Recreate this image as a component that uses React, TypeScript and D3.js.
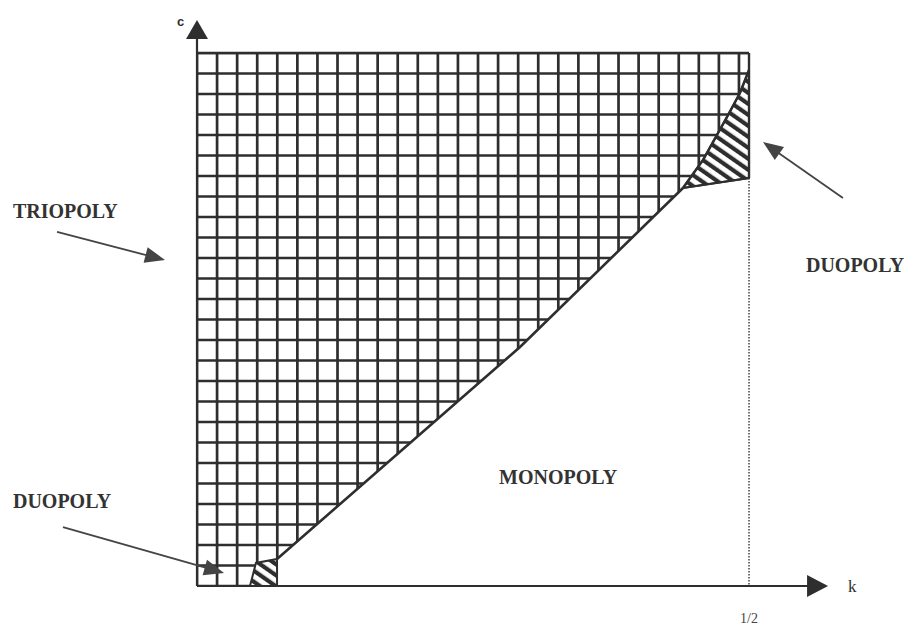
import React from "react";
import * as d3 from "d3";

// Domain of the (k, c) plane
const kDomain = [0, 0.5];
const cDomain = [0, 0.5];
const kGridStep = 1 / 55;
const cGridStep = 1 / 52;

// Triopoly / monopoly boundary
const boundaryK = [0.0725, 0.2926, 0.4402];
const boundaryC = [0.0253, 0.2242, 0.3734];

// Upper-right duopoly region: upper curve and lower edge
const duoUpperK = [0.4402, 0.4583, 0.4801, 0.4918, 0.5];
const duoUpperC = [0.3734, 0.3996, 0.44, 0.4625, 0.484];
const duoLowerK = [0.4402, 0.5];
const duoLowerC = [0.3734, 0.3827];

// Lower-left duopoly region
const duoLeftK = [0.048, 0.0534, 0.0725, 0.0725];
const duoLeftC = [0, 0.0216, 0.0253, 0];

// Labels (data coordinates)
const labelText = ["TRIOPOLY", "DUOPOLY", "DUOPOLY", "MONOPOLY"];
const labelK = [-0.1667, -0.1667, 0.5516, 0.2736];
const labelC = [0.3452, 0.0732, 0.2946, 0.0957];

// Annotation arrows
const arrowFromK = [-0.1268, -0.1214, 0.5851];
const arrowFromC = [0.3321, 0.0553, 0.364];
const arrowToK = [-0.029, 0.0245, 0.5127];
const arrowToC = [0.3058, 0.0122, 0.4165];

const axisEndK = 0.5716;
const axisEndC = 0.531;
const tickK = [0.5];
const tickLabels = ["1/2"];

const W = 904;
const H = 628;
const x = d3.scaleLinear().domain(kDomain).range([197, 749]);
const y = d3.scaleLinear().domain(cDomain).range([586, 53]);

const INK = "#2e2e2e";

function head(x1: number, y1: number, x2: number, y2: number, len: number, half: number) {
  const dx = x2 - x1, dy = y2 - y1;
  const L = Math.hypot(dx, dy);
  const ux = dx / L, uy = dy / L;
  const bx = x2 - ux * len, by = y2 - uy * len;
  return `${x2},${y2} ${bx - uy * half},${by + ux * half} ${bx + uy * half},${by - ux * half}`;
}

export default function App() {
  const line = d3.line<[number, number]>().x((d) => x(d[0])).y((d) => y(d[1]));

  const boundaryPts: [number, number][] = boundaryK.map((k, i) => [k, boundaryC[i]]);
  const upperPts: [number, number][] = duoUpperK.map((k, i) => [k, duoUpperC[i]]);
  const lowerPts: [number, number][] = duoLowerK.map((k, i) => [k, duoLowerC[i]]);
  const leftPts: [number, number][] = duoLeftK.map((k, i) => [k, duoLeftC[i]]);

  const trioPoly: [number, number][] = [
    [kDomain[0], cDomain[0]],
    [duoLeftK[0], duoLeftC[0]],
    [duoLeftK[1], duoLeftC[1]],
    ...boundaryPts,
    ...upperPts.slice(1),
    [kDomain[1], cDomain[1]],
    [kDomain[0], cDomain[1]],
  ];
  const rightDuoPoly: [number, number][] = [...upperPts, ...lowerPts.slice().reverse()];

  const polyStr = (pts: [number, number][]) => pts.map((p) => `${x(p[0])},${y(p[1])}`).join(" ");

  const vLines = d3.range(0, 28).map((i) => i * kGridStep).filter((k) => k <= kDomain[1]);
  const hLines = d3.range(0, 27).map((j) => j * cGridStep).filter((c) => c <= cDomain[1] + 1e-9);

  return (
    <svg width={W} height={H} style={{ position: "absolute", left: 0, top: 0, background: "#fff" }}>
      <defs>
        <clipPath id="trio">
          <polygon points={polyStr(trioPoly)} />
        </clipPath>
        <pattern id="hatch" width={9} height={9} patternUnits="userSpaceOnUse" patternTransform="rotate(-55)">
          <rect x={0} y={0} width={4.2} height={9} fill={INK} />
        </pattern>
      </defs>
      <rect width={W} height={H} fill="#fff" />

      {/* Triopoly grid */}
      <g clipPath="url(#trio)" stroke={INK} strokeWidth={2.7}>
        {vLines.map((k, i) => (
          <line key={"v" + i} x1={x(k)} x2={x(k)} y1={y(cDomain[0])} y2={y(cDomain[1])} />
        ))}
        {hLines.map((c, i) => (
          <line key={"h" + i} x1={x(kDomain[0])} x2={x(kDomain[1])} y1={y(c)} y2={y(c)} />
        ))}
      </g>

      {/* Duopoly hatched regions */}
      <polygon points={polyStr(rightDuoPoly)} fill="url(#hatch)" stroke={INK} strokeWidth={2} />
      <polygon points={polyStr(leftPts)} fill="url(#hatch)" stroke={INK} strokeWidth={2} />

      {/* Boundary */}
      <path d={line(boundaryPts) || ""} fill="none" stroke={INK} strokeWidth={2.6} />
      <path d={line(upperPts) || ""} fill="none" stroke={INK} strokeWidth={2.4} />
      <path d={line(lowerPts) || ""} fill="none" stroke={INK} strokeWidth={2} />

      {/* Frame: top and right */}
      <line x1={x(kDomain[0])} x2={x(kDomain[1])} y1={y(cDomain[1])} y2={y(cDomain[1])} stroke={INK} strokeWidth={2.7} />
      <line x1={x(kDomain[1])} x2={x(kDomain[1])} y1={y(cDomain[1])} y2={y(duoLowerC[1])} stroke={INK} strokeWidth={2.4} />

      {/* Dotted guide at k = 1/2 */}
      <line x1={x(tickK[0])} x2={x(tickK[0])} y1={y(duoLowerC[1])} y2={y(0)} stroke="#444" strokeWidth={1.5} strokeDasharray="1.5,1.5" />

      {/* Axes */}
      <line x1={x(0)} x2={x(axisEndK) - 10} y1={y(0)} y2={y(0)} stroke={INK} strokeWidth={2.2} />
      <polygon points={head(x(0), y(0), x(axisEndK), y(0), 21, 11)} fill={INK} />
      <line x1={x(0)} x2={x(0)} y1={y(0)} y2={y(axisEndC) + 10} stroke={INK} strokeWidth={2.2} />
      <polygon points={head(x(0), y(0), x(0), y(axisEndC), 19, 11)} fill={INK} />

      <text x={x(0) - 20} y={y(axisEndC) + 6} fontFamily="Liberation Sans, Arial, sans-serif" fontWeight="bold" fontSize={13} fill={INK}>c</text>
      <text x={x(axisEndK) + 20} y={y(0) + 6} fontFamily="Liberation Serif, serif" fontSize={17} fill={INK}>k</text>
      {tickK.map((k, i) => (
        <text key={i} x={x(k)} y={y(0) + 37} textAnchor="middle" fontFamily="Liberation Serif, serif" fontSize={14} fill="#444">{tickLabels[i]}</text>
      ))}

      {/* Annotation arrows */}
      {arrowFromK.map((k, i) => {
        const x1 = x(k), y1 = y(arrowFromC[i]), x2 = x(arrowToK[i]), y2 = y(arrowToC[i]);
        const L = Math.hypot(x2 - x1, y2 - y1);
        const ex = x2 - ((x2 - x1) / L) * 12, ey = y2 - ((y2 - y1) / L) * 12;
        return (
          <g key={"a" + i}>
            <line x1={x1} y1={y1} x2={ex} y2={ey} stroke="#444" strokeWidth={1.8} />
            <polygon points={head(x1, y1, x2, y2, 20, 8)} fill="#444" />
          </g>
        );
      })}

      {/* Region labels */}
      {labelText.map((t, i) => (
        <text key={"l" + i} x={x(labelK[i])} y={y(labelC[i])} fontFamily="Liberation Serif, 'Times New Roman', serif" fontWeight="bold" fontSize={20} fill="#333">{t}</text>
      ))}
    </svg>
  );
}
